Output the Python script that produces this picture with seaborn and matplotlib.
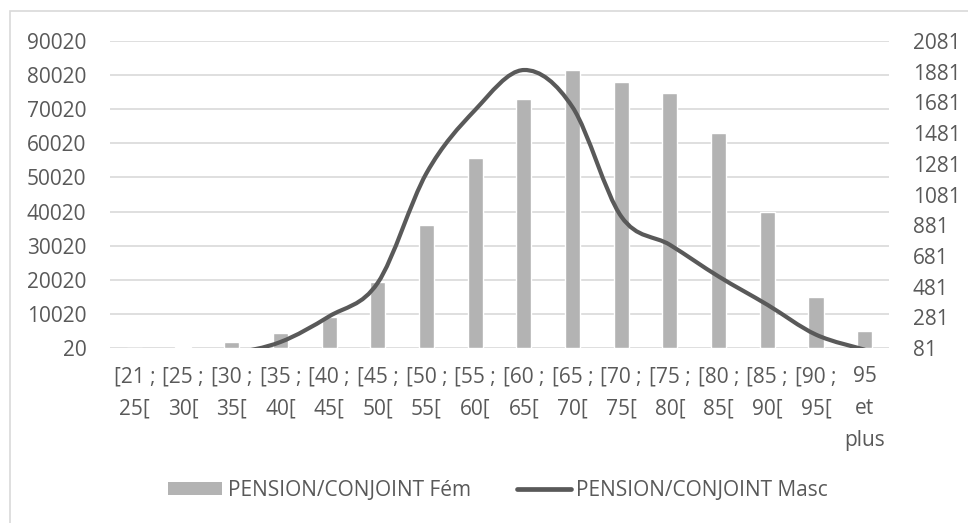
import numpy as np
import seaborn as sns
import matplotlib.pyplot as plt
from matplotlib.path import Path
from matplotlib.patches import PathPatch, Rectangle
from matplotlib.lines import Line2D

# Data
categories = ["[21 ; 25[", "[25 ; 30[", "[30 ; 35[", "[35 ; 40[", "[40 ; 45[",
              "[45 ; 50[", "[50 ; 55[", "[55 ; 60[", "[60 ; 65[", "[65 ; 70[",
              "[70 ; 75[", "[75 ; 80[", "[80 ; 85[", "[85 ; 90[", "[90 ; 95[",
              "95 et plus"]
tick_labels = ["[21 ;\n25[", "[25 ;\n30[", "[30 ;\n35[", "[35 ;\n40[", "[40 ;\n45[",
               "[45 ;\n50[", "[50 ;\n55[", "[55 ;\n60[", "[60 ;\n65[", "[65 ;\n70[",
               "[70 ;\n75[", "[75 ;\n80[", "[80 ;\n85[", "[85 ;\n90[", "[90 ;\n95[",
               "95\net\nplus"]
fem = [100, 400, 1800, 4300, 9200, 19400, 36000, 55600, 73000, 81400,
       78100, 74800, 63100, 40000, 15000, 5100]
masc = [5, 15, 45, 120, 287, 506, 1220, 1632, 1892, 1650,
        938, 753, 547, 363, 168, 70]

left_ticks = [20, 10020, 20020, 30020, 40020, 50020, 60020, 70020, 80020, 90020]
right_ticks = [81, 281, 481, 681, 881, 1081, 1281, 1481, 1681, 1881, 2081]

bar_color = "#b3b3b3"
line_color = "#595959"
text_color = "#595959"
grid_color = "#d9d9d9"

sns.set_theme(style="white")
plt.rcParams["font.family"] = ["Open Sans", "DejaVu Sans"]
plt.rcParams["text.color"] = text_color

fig = plt.figure(figsize=(9.68, 5.23), dpi=100)
ax = fig.add_axes([110 / 968, 1 - 348 / 523, 779 / 968, 307 / 523])

# Bars (left axis)
sns.barplot(x=categories, y=fem, color=bar_color, saturation=1, width=0.31, ax=ax, zorder=2)
ax.set_ylim(left_ticks[0], left_ticks[-1])
ax.set_yticks(left_ticks)
ax.set_yticklabels([str(v) for v in left_ticks])
ax.yaxis.grid(True, color=grid_color, linewidth=1.2, zorder=0)
ax.set_axisbelow(True)
ax.set_xticks(range(len(categories)))
ax.set_xticklabels(tick_labels, linespacing=1.7)
ax.tick_params(axis="both", length=0, labelsize=15, labelcolor=text_color)
ax.tick_params(axis="y", pad=17)
ax.tick_params(axis="x", pad=13)
for s in ax.spines.values():
    s.set_visible(False)

# Smoothed line (right axis), Excel-style Bezier through the points
ax2 = ax.twinx()
ax2.set_ylim(right_ticks[0], right_ticks[-1])
ax2.set_yticks(right_ticks)
ax2.set_yticklabels([str(v) for v in right_ticks])
ax2.tick_params(axis="y", length=0, labelsize=15, labelcolor=text_color, pad=17)
for s in ax2.spines.values():
    s.set_visible(False)

xs = np.arange(len(masc), dtype=float)
ys = np.array(masc, dtype=float)
pts = np.column_stack([xs, ys])
ext = np.vstack([pts[0], pts, pts[-1]])
verts = [tuple(pts[0])]
codes = [Path.MOVETO]
for i in range(len(pts) - 1):
    p0, p1, p2, p3 = ext[i], ext[i + 1], ext[i + 2], ext[i + 3]
    c1 = p1 + (p2 - p0) / 6
    c2 = p2 - (p3 - p1) / 6
    verts += [tuple(c1), tuple(c2), tuple(p2)]
    codes += [Path.CURVE4] * 3
curve = PathPatch(Path(verts, codes), facecolor="none", edgecolor=line_color,
                  linewidth=3.0, capstyle="round", zorder=3)
ax2.add_patch(curve)
ax2.set_xlim(ax.get_xlim())

# Chart border (only top and left edges fall inside the picture)
fig.patches.append(Rectangle((10 / 968, -0.5), 2, 1.5 - 11 / 523, transform=fig.transFigure,
                             fill=False, edgecolor=grid_color, linewidth=1.2))

handles = [Rectangle((0, 0), 1, 1, facecolor=bar_color, edgecolor="none"),
           Line2D([0], [0], color=line_color, linewidth=3.4, solid_capstyle="round")]
fig.legend(handles, ["PENSION/CONJOINT Fém", "PENSION/CONJOINT Masc"],
           loc="center", bbox_to_anchor=(498 / 968, 1 - 490 / 523), ncol=2,
           frameon=False, fontsize=15, handlelength=2.6, handleheight=0.6,
           handletextpad=0.25, columnspacing=2.2, labelcolor=text_color)

plt.savefig("out.png", dpi=100)
